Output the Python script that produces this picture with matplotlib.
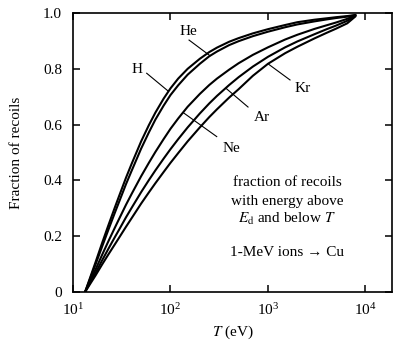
import numpy as np
import matplotlib
matplotlib.use("Agg")
import matplotlib.pyplot as plt
from matplotlib.ticker import LogLocator, LogFormatterMathtext, FixedLocator, NullLocator

plt.rcParams['font.family'] = ['Liberation Serif', 'DejaVu Serif']
plt.rcParams['mathtext.fontset'] = 'stix'

# Recoil energy T (eV), common grid for every ion
T = [13.3, 15, 17, 20, 23, 27, 30, 35, 40, 50, 60, 70, 85, 100, 120, 150,
     200, 250, 300, 400, 500, 700, 1000, 1500, 2000, 3000, 4000, 5000,
     6500, 7900]

# Fraction of recoils with energy above E_d and below T
frac_H  = [0, 0.052, 0.106, 0.178, 0.238, 0.305, 0.348, 0.41, 0.46, 0.54,
           0.598, 0.643, 0.693, 0.73, 0.765, 0.80, 0.836, 0.86, 0.876, 0.897,
           0.91, 0.927, 0.942, 0.957, 0.967, 0.976, 0.981, 0.985, 0.989, 0.993]
frac_He = [0, 0.048, 0.098, 0.165, 0.222, 0.286, 0.327, 0.387, 0.435, 0.514,
           0.572, 0.618, 0.668, 0.706, 0.741, 0.779, 0.818, 0.845, 0.862, 0.885,
           0.899, 0.917, 0.933, 0.949, 0.959, 0.97, 0.977, 0.982, 0.987, 0.992]
frac_Ne = [0, 0.04, 0.08, 0.135, 0.181, 0.232, 0.265, 0.313, 0.352, 0.415,
           0.463, 0.502, 0.548, 0.585, 0.622, 0.664, 0.71, 0.742, 0.765, 0.797,
           0.82, 0.85, 0.877, 0.905, 0.922, 0.943, 0.956, 0.966, 0.979, 0.992]
frac_Ar = [0, 0.034, 0.068, 0.115, 0.154, 0.198, 0.226, 0.268, 0.302, 0.358,
           0.401, 0.436, 0.478, 0.512, 0.548, 0.59, 0.64, 0.676, 0.703, 0.742,
           0.77, 0.808, 0.843, 0.877, 0.898, 0.924, 0.942, 0.955, 0.972, 0.99]
frac_Kr = [0, 0.029, 0.059, 0.10, 0.134, 0.172, 0.197, 0.234, 0.265, 0.317,
           0.357, 0.39, 0.43, 0.463, 0.498, 0.54, 0.59, 0.627, 0.655, 0.697,
           0.727, 0.775, 0.818, 0.856, 0.879, 0.909, 0.929, 0.944, 0.963, 0.988]

ions = ['H', 'He', 'Ne', 'Ar', 'Kr']
series = [frac_H, frac_He, frac_Ne, frac_Ar, frac_Kr]

# label position and leader-line endpoints (start near label, end on curve)
label_xy = {'H': (45.3, 0.796), 'He': (151, 0.932), 'Ne': (418, 0.513),
            'Ar': (867, 0.627), 'Kr': (2285, 0.731)}
leader = {'H': ((57.0, 0.784), (94.8, 0.720)),
          'He': ((155, 0.903), (254, 0.847)),
          'Ne': ((298, 0.557), (135, 0.643)),
          'Ar': ((624, 0.663), (371, 0.730)),
          'Kr': ((1683, 0.760), (1000, 0.818))}

fig = plt.figure(figsize=(3.93, 3.42), dpi=100)
ax = fig.add_axes([73/393, 1-292/342, 319/393, 279/342])

for ion, f in zip(ions, series):
    ax.plot(T, f, color='black', lw=1.5, solid_joinstyle='round',
            solid_capstyle='round')

for ion in ions:
    (x0, y0), (x1, y1) = leader[ion]
    ax.plot([x0, x1], [y0, y1], color='black', lw=0.8)
    ax.text(*label_xy[ion], ion, fontsize=11, ha='center', va='center')

ax.set_xscale('log')
ax.set_xlim(10, 10**4.272)
ax.set_ylim(0, 1.0)
ax.xaxis.set_major_locator(LogLocator(base=10, numticks=10))
ax.xaxis.set_major_formatter(LogFormatterMathtext())
ax.xaxis.set_minor_locator(NullLocator())
ax.yaxis.set_major_locator(FixedLocator([0, 0.2, 0.4, 0.6, 0.8, 1.0]))
ax.set_yticklabels(['0', '0.2', '0.4', '0.6', '0.8', '1.0'])

ax.tick_params(direction='in', length=5, width=1.1, top=True, right=True,
               labelsize=11)
ax.tick_params(axis='y', pad=8)
ax.tick_params(axis='x', pad=7)
for s in ax.spines.values():
    s.set_linewidth(1.2)

ax.set_xlabel(r'$T$ (eV)', fontsize=11, labelpad=4)
ax.set_ylabel('Fraction of recoils', fontsize=11, labelpad=14)

cx = 0.672
ax.text(cx, 0.391, 'fraction of recoils', transform=ax.transAxes,
        ha='center', va='center', fontsize=11)
ax.text(cx, 0.326, 'with energy above', transform=ax.transAxes,
        ha='center', va='center', fontsize=11)
ax.text(cx, 0.262, r'$E_\mathrm{d}$ and below $T$', transform=ax.transAxes,
        ha='center', va='center', fontsize=11)
ax.text(cx, 0.143, '1-MeV ions \u2192 Cu', transform=ax.transAxes,
        ha='center', va='center', fontsize=11)

fig.savefig('out.png', dpi=100)
